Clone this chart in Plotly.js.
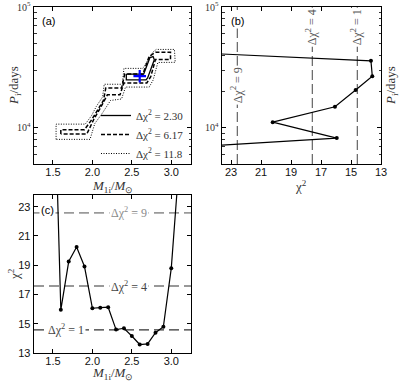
<!DOCTYPE html>
<html>
<head>
<meta charset="utf-8">
<script src="https://cdn.plot.ly/plotly-3.0.1.min.js"></script>
<style>
  html, body { margin: 0; padding: 0; background: #fff; }
  #chart { width: 399px; height: 383px; }
</style>
</head>
<body>
<div id="chart"></div>
<script>
// panel (c): chi^2 against initial primary mass
let massGrid   = [1.5, 1.6, 1.7, 1.8, 1.9, 2.0, 2.1, 2.2, 2.3, 2.4, 2.5, 2.6, 2.7, 2.8, 2.9, 3.0, 3.1];
let chi2ByMass = [35, 15.95, 19.25, 20.24, 18.91, 16.06, 16.1, 16.13, 14.6, 14.69, 14.16, 13.58, 13.62, 14.39, 14.8, 18.8, 26];

// panel (b): chi^2 against initial period
let periodGrid   = [6100, 8200, 11100, 14900, 20500, 26700, 35800, 48000];
let chi2ByPeriod = [33, 15.95, 20.22, 16.07, 14.69, 13.58, 13.67, 36];

// Delta chi^2 levels drawn in (b) and (c)
let deltaLevels = [9, 4, 1];

// panel (a): confidence contours in the (M, P) plane
let contourNames = ['Δχ<sup>2</sup> = 2.30', 'Δχ<sup>2</sup> = 6.17', 'Δχ<sup>2</sup> = 11.8'];
let c1M = [2.43, 2.65, 2.73, 2.77, 2.785, 2.70, 2.68, 2.43, 2.43];
let c1P = [27800, 27800, 38100, 38800, 36500, 25800, 24900, 24900, 27800];
let c2M = [1.60, 1.60, 1.90, 1.99, 2.06, 2.14, 2.17, 2.37, 2.41, 2.64, 2.72, 2.80, 2.99, 2.99, 2.80, 2.74, 2.69, 2.40, 2.35, 2.19, 2.10, 2.02, 1.93, 1.60];
let c2P = [8870, 9630, 9630, 11600, 13800, 16800, 21300, 21300, 27800, 27800, 39000, 42200, 42200, 36800, 36800, 26500, 23500, 23500, 18700, 18700, 14500, 11800, 8870, 8870];
let c3M = [1.54, 1.54, 1.91, 1.99, 2.05, 2.13, 2.15, 2.38, 2.40, 2.64, 2.77, 2.81, 3.04, 3.05, 2.83, 2.77, 2.72, 2.42, 2.37, 2.23, 2.13, 2.03, 1.97, 1.54];
let c3P = [8000, 10700, 10700, 12600, 15000, 18000, 22900, 22900, 31000, 31000, 42500, 44500, 44500, 34800, 34700, 24800, 21700, 21700, 17300, 16800, 13300, 10800, 8000, 8000];
let bestM = [2.6];
let bestP = [26700];

let massTicks = [1.5, 2.0, 2.5, 3.0];
let chi2Ticks = [23, 21, 19, 17, 15, 13];
let periodTicks = [1e4, 1e5];
let periodTickText = ['10<sup>4</sup>', '10<sup>5</sup>'];
let periodMinor = [6000, 7000, 8000, 9000, 20000, 30000, 40000, 50000, 60000, 70000, 80000, 90000];

const W = 399, H = 383;
const SANS = 'Liberation Sans, Arial, sans-serif';
const SERIF = 'Liberation Serif, Times New Roman, serif';

let chi2min = Math.min(...chi2ByMass);
let levelColors = {9: '#9a9a9a', 4: '#333333', 1: '#333333'};
let levelTextColors = {9: '#8a8a8a', 4: '#444444', 1: '#444444'};

function dx(a, b) { return [a / W, b / W]; }
function dy(top, bottom) { return [1 - bottom / H, 1 - top / H]; }

let frame = {
  showline: true, linewidth: 1.4, linecolor: '#000', mirror: 'ticks',
  ticks: 'inside', ticklen: 4, tickwidth: 1, tickcolor: '#000',
  showgrid: false, zeroline: false, automargin: false,
  tickfont: {family: SANS, size: 11, color: '#111'}
};
let logMinor = {tickmode: 'array', tickvals: periodMinor, ticks: 'inside', ticklen: 2.5, tickwidth: 0.8, tickcolor: '#000', showgrid: false};

let traces = [
  {x: c1M, y: c1P, xaxis: 'x', yaxis: 'y', mode: 'lines', name: contourNames[0],
   line: {color: '#000', width: 1.3}},
  {x: c2M, y: c2P, xaxis: 'x', yaxis: 'y', mode: 'lines', name: contourNames[1],
   line: {color: '#000', width: 1.5, dash: '4px,2px'}},
  {x: c3M, y: c3P, xaxis: 'x', yaxis: 'y', mode: 'lines', name: contourNames[2],
   line: {color: '#000', width: 1, dash: '1px,1.5px'}},
  {x: bestM, y: bestP, xaxis: 'x', yaxis: 'y', mode: 'markers', showlegend: false,
   marker: {symbol: 'cross-thin', size: 9, color: '#0000ff', line: {color: '#0000ff', width: 2.2}}},
  {x: chi2ByPeriod, y: periodGrid, xaxis: 'x2', yaxis: 'y2', mode: 'lines+markers', showlegend: false,
   line: {color: '#000', width: 1.2}, marker: {color: '#000', size: 4}},
  {x: massGrid, y: chi2ByMass, xaxis: 'x3', yaxis: 'y3', mode: 'lines+markers', showlegend: false,
   line: {color: '#000', width: 1.2}, marker: {color: '#000', size: 4}}
];

let shapes = [];
let annotations = [];
deltaLevels.forEach(function (d) {
  let v = chi2min + d;
  shapes.push({type: 'line', xref: 'x2', yref: 'y2 domain', x0: v, x1: v, y0: 0, y1: 1,
    line: {color: '#555', width: 1.1, dash: '10px,4px'}, layer: 'below'});
  shapes.push({type: 'line', xref: 'x3 domain', yref: 'y3', x0: 0, x1: 1, y0: v, y1: v,
    line: {color: levelColors[d], width: d === 9 ? 1.6 : 1.1, dash: '10px,5px'}, layer: 'below'});
  annotations.push({xref: 'x2', yref: 'y2', x: v, y: d === 9 ? 4.355 : 4.835,
    text: 'Δχ<sup>2</sup> = ' + d, textangle: -90, showarrow: false, bgcolor: '#fff',
    font: {family: SERIF, size: 12, color: '#555'}});
  annotations.push({xref: 'x3', yref: 'y3', x: d === 1 ? 1.66 : 2.47, y: v,
    text: 'Δχ<sup>2</sup> = ' + d, showarrow: false, bgcolor: '#fff',
    font: {family: SERIF, size: 12, color: levelTextColors[d]}});
});

function label(px, py, text, opts) {
  return Object.assign({xref: 'paper', yref: 'paper', x: px / W, y: 1 - py / H,
    xanchor: 'center', yanchor: 'middle', text: text, showarrow: false}, opts);
}
let titleFont = {family: SERIF, size: 13, color: '#333'};
let massTitle = '<i>M</i><sub>1i</sub>/<i>M</i><sub>⊙</sub>';
let periodTitle = '<i>P</i><sub>i</sub>/days';
let chiTitle = 'χ<sup>2</sup>';

annotations.push(
  label(48, 21, '(a)', {font: {family: SANS, size: 11, color: '#000'}}),
  label(237, 21, '(b)', {bgcolor: '#fff', font: {family: SANS, size: 11, color: '#000'}}),
  label(47, 210, '(c)', {bgcolor: '#fff', font: {family: SANS, size: 11, color: '#000'}}),
  label(112, 186, massTitle, {font: titleFont}),
  label(112, 373, massTitle, {font: titleFont}),
  label(14, 86, periodTitle, {textangle: -90, font: titleFont}),
  label(14, 274, chiTitle, {textangle: -90, font: titleFont}),
  label(301, 186, chiTitle, {font: titleFont}),
  label(391, 86, periodTitle, {textangle: -90, font: titleFont})
);

let layout = {
  width: W, height: H,
  margin: {l: 0, r: 0, t: 0, b: 0},
  paper_bgcolor: '#fff', plot_bgcolor: '#fff',
  showlegend: true,
  legend: {x: 96 / W, y: 1 - 101 / H, xanchor: 'left', yanchor: 'top', bgcolor: 'rgba(0,0,0,0)',
    font: {family: SERIF, size: 11, color: '#333'}, itemwidth: 30, tracegroupgap: 0},
  xaxis: Object.assign({}, frame, {domain: dx(34, 191), anchor: 'y', range: [1.26, 3.25],
    tickvals: massTicks, tickformat: '.1f', ticklabelstandoff: -3}),
  yaxis: Object.assign({}, frame, {domain: dy(7, 164), anchor: 'x', type: 'log', range: [Math.log10(5000), 5],
    tickvals: periodTicks, ticktext: periodTickText, minor: logMinor,
    tickfont: {family: SERIF, size: 10, color: '#333'}}),
  xaxis2: Object.assign({}, frame, {domain: dx(222, 381), anchor: 'y2', range: [23.6, 13],
    tickvals: chi2Ticks, ticklabelstandoff: -3}),
  yaxis2: Object.assign({}, frame, {domain: dy(7, 164), anchor: 'x2', type: 'log', range: [Math.log10(5000), 5],
    tickvals: periodTicks, ticktext: periodTickText, minor: logMinor,
    tickfont: {family: SERIF, size: 10, color: '#333'}}),
  xaxis3: Object.assign({}, frame, {domain: dx(34, 191), anchor: 'y3', range: [1.26, 3.25],
    tickvals: massTicks, tickformat: '.1f', ticklabelstandoff: -3}),
  yaxis3: Object.assign({}, frame, {domain: dy(195, 353), anchor: 'x3', range: [13, 23.8],
    tickvals: chi2Ticks}),
  shapes: shapes,
  annotations: annotations
};

Plotly.newPlot('chart', traces, layout, {staticPlot: true, displayModeBar: false});
</script>
</body>
</html>
